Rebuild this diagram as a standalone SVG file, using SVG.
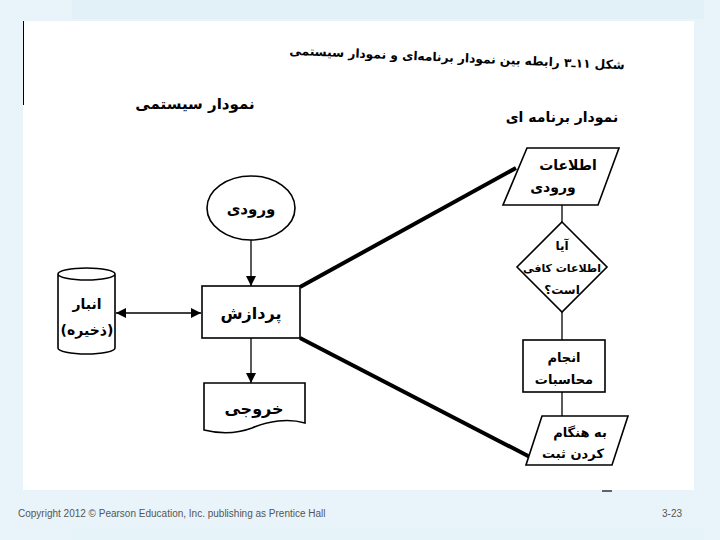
<svg xmlns="http://www.w3.org/2000/svg" width="720" height="540" viewBox="0 0 720 540">
<defs>
<marker id="ah" viewBox="0 0 10 10" refX="10" refY="5" markerWidth="10" markerHeight="10" markerUnits="userSpaceOnUse" orient="auto-start-reverse">
<path d="M0,0 L10,5 L0,10 Z" fill="#000"/>
</marker>
<style>
.sh{fill:#fff;stroke:#000;stroke-width:1.6}
.fa{font-family:"DejaVu Sans",sans-serif;font-weight:bold;fill:#000;text-anchor:middle}
.ln{stroke:#000;stroke-width:1.3;fill:none}
.tk{stroke:#000;stroke-width:4;fill:none}
.ft{font-family:"Liberation Sans",Arial,sans-serif;font-size:10px;fill:#555}
</style>
</defs>
<rect x="0" y="0" width="720" height="540" fill="#E9F4FA"/>
<rect x="72" y="0" width="632" height="19" fill="#E2F0F7"/>
<rect x="72" y="529" width="632" height="11" fill="#E6F3F9"/>
<rect x="23" y="21" width="671" height="469" fill="#fff"/>
<line x1="23.5" y1="21" x2="23.5" y2="105" stroke="#000" stroke-width="1"/>
<line x1="602" y1="491" x2="612" y2="491" stroke="#333" stroke-width="1.5"/>

<text class="fa" font-size="12.2" x="457" y="62" transform="rotate(2.5 457 58)" direction="rtl">شکل ۱۱ـ۳ رابطه بین نمودار برنامه‌ای و نمودار سیستمی</text>
<text class="fa" font-size="15" x="195" y="109" direction="rtl">نمودار سیستمی</text>
<text class="fa" font-size="14" x="562" y="122" direction="rtl">نمودار برنامه ای</text>

<g id="connectors">
<line class="ln" x1="251" y1="240" x2="251" y2="286" marker-end="url(#ah)"/>
<line class="ln" x1="116" y1="313" x2="201" y2="313" marker-start="url(#ah)" marker-end="url(#ah)"/>
<line class="ln" x1="251" y1="338" x2="251" y2="383" marker-end="url(#ah)"/>
<line class="tk" x1="300" y1="287" x2="516" y2="168"/>
<line class="tk" x1="300" y1="338" x2="530" y2="457"/>
<line class="ln" x1="562" y1="205" x2="562" y2="222"/>
<line class="ln" x1="562" y1="312" x2="562" y2="340"/>
<line class="ln" x1="562" y1="392" x2="562" y2="416"/>
</g>

<g id="input">
<ellipse class="sh" cx="251" cy="208" rx="44" ry="32"/>
<text class="fa" font-size="15" x="251" y="214" direction="rtl">ورودی</text>
</g>
<g id="process">
<rect class="sh" x="202" y="286" width="98" height="52"/>
<text class="fa" font-size="16" x="251" y="319" direction="rtl">پردازش</text>
</g>
<g id="storage">
<path class="sh" d="M58,274 V348 A28.5,6 0 0 0 115,348 V274 A28.5,6 0 0 0 58,274 A28.5,6 0 0 0 115,274"/>
<text class="fa" font-size="14" x="87" y="309" direction="rtl">انبار</text>
<text class="fa" font-size="14" x="87" y="335" direction="rtl">(ذخیره)</text>
</g>
<g id="output">
<path class="sh" d="M204,383 H305 V423 C288,418 268,421 252,428 C236,434 220,434 204,430 Z"/>
<text class="fa" font-size="16" x="254" y="414" direction="rtl">خروجی</text>
</g>
<g id="prog-input">
<path class="sh" d="M527,148 H619 L598,205 H503 Z"/>
<text class="fa" font-size="14" x="568" y="170" direction="rtl">اطلاعات</text>
<text class="fa" font-size="14" x="553" y="192" direction="rtl">ورودی</text>
</g>
<g id="decision">
<path class="sh" d="M562,222 L607,267 L562,312 L517,267 Z"/>
<text class="fa" font-size="12" x="562" y="250" direction="rtl">آیا</text>
<text class="fa" font-size="11" x="562" y="272" direction="rtl">اطلاعات کافی</text>
<text class="fa" font-size="12" x="562" y="294" direction="rtl">است؟</text>
</g>
<g id="compute">
<rect class="sh" x="523" y="340" width="82" height="52"/>
<text class="fa" font-size="13" x="564" y="362" direction="rtl">انجام</text>
<text class="fa" font-size="13" x="564" y="384" direction="rtl">محاسبات</text>
</g>
<g id="update">
<path class="sh" d="M542,416 H628 L612,465 H526 Z"/>
<text class="fa" font-size="13" x="580" y="437" direction="rtl">به هنگام</text>
<text class="fa" font-size="13" x="573" y="458" direction="rtl">کردن ثبت</text>
</g>

<text class="ft" x="18" y="517">Copyright 2012 © Pearson Education, Inc. publishing as Prentice Hall</text>
<text class="ft" x="662" y="517">3-23</text>
</svg>
